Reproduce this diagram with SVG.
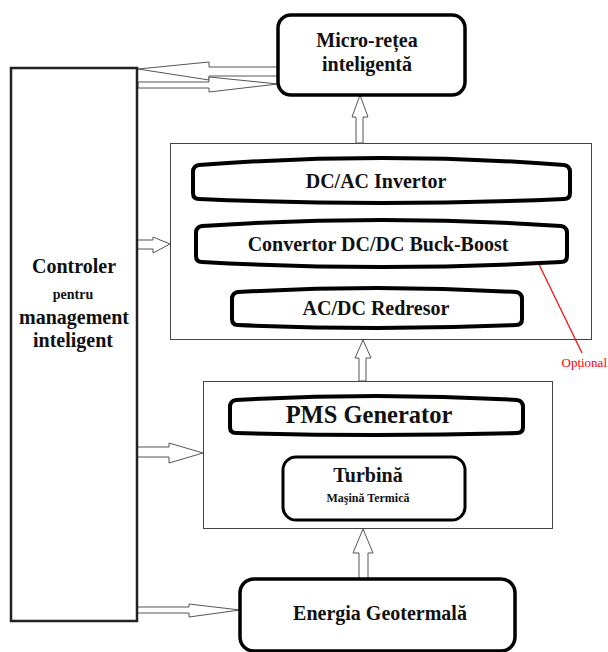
<svg xmlns="http://www.w3.org/2000/svg" width="608" height="652" viewBox="0 0 608 652">
<style>
text{font-family:"Liberation Serif","Times New Roman",serif;font-weight:bold;fill:#111;text-anchor:middle}
.arr{fill:#fff;stroke:#555;stroke-width:1}
.cont{fill:#fff;stroke:#444;stroke-width:1}
.thick{fill:#fff;stroke:#000;stroke-width:3.5}
.barrel{fill:#fff;stroke:#000;stroke-width:4}
.red{font-weight:normal;fill:#f00;text-anchor:end}
</style>
<rect width="608" height="652" fill="#fff"/>
<g id="containers">
<rect id="converter-stage" class="cont" x="170.5" y="143.5" width="421" height="196"/>
<rect id="generator-stage" class="cont" x="203.5" y="381.5" width="349" height="147"/>
</g>
<g id="connectors">
<polygon class="arr" points="138,69 209,62 209,67 278,67 278,76 209,76 209,80"/>
<polygon class="arr" points="138,82 209,82 209,77 278,84 209,92 209,88 138,88"/>
<polygon class="arr" points="356,143 356,117 352,117 360,95 368,117 363,117 363,143"/>
<polygon class="arr" points="359,381 359,358 355,358 363,340 371,358 366,358 366,381"/>
<polygon class="arr" points="359,579 359,553 353,553 363,529 373,553 368,553 368,579"/>
<polygon class="arr" points="137,240 153,240 153,237 170,244 153,253 153,249 137,249"/>
<polygon class="arr" points="137,447 169,447 169,443 203,453 169,463 169,457 137,457"/>
<polygon class="arr" points="137,607 189,607 189,604 240,610 189,617 189,613 137,613"/>
<line x1="533" y1="252" x2="582" y2="353" stroke="#f00" stroke-width="1.2"/>
</g>
<g id="controller">
<rect x="11" y="68" width="126" height="553" fill="#fff" stroke="#222" stroke-width="2.5"/>
<text x="74" y="273" font-size="20">Controler</text>
<text x="73" y="299" font-size="14">pentru</text>
<text x="74" y="324" font-size="20">management</text>
<text x="73" y="347" font-size="20">inteligent</text>
</g>
<g id="micro-retea">
<rect class="thick" x="278" y="15" width="187" height="80" rx="13"/>
<text x="367" y="47" font-size="20">Micro-rețea</text>
<text x="367" y="71" font-size="20">inteligentă</text>
</g>
<g id="dcac">
<path class="barrel" d="M199,165 Q381.5,151 564,165 Q570,166 570,172 L570,193 Q570,199 564,199 Q381.5,207 199,199 Q193,199 193,193 L193,172 Q193,166 199,165 Z"/>
<text x="376" y="188" font-size="20">DC/AC Invertor</text>
</g>
<g id="dcdc">
<path class="barrel" d="M202,226 Q381.5,214 561,226 Q567,227 567,233 L567,256 Q567,262 561,262 Q381.5,272 202,262 Q196,262 196,256 L196,233 Q196,227 202,226 Z"/>
<text x="378" y="251" font-size="20">Convertor DC/DC Buck-Boost</text>
</g>
<g id="acdc">
<path class="barrel" d="M238,292 Q377,284 516,292 Q522,293 522,299 L522,319 Q522,325 516,325 Q377,331 238,325 Q232,325 232,319 L232,299 Q232,293 238,292 Z"/>
<text x="376" y="315" font-size="20">AC/DC Redresor</text>
</g>
<g id="optional">
<text class="red" x="607" y="367" font-size="13">Opțional</text>
</g>
<g id="pms-generator">
<path class="barrel" d="M236,400 Q376.5,392 517,400 Q523,401 523,407 L523,427 Q523,433 517,433 Q376.5,437 236,433 Q230,433 230,427 L230,407 Q230,401 236,400 Z"/>
<text x="369" y="423" font-size="24.5">PMS Generator</text>
</g>
<g id="turbina">
<rect x="283" y="457" width="182" height="63" rx="13" fill="#fff" stroke="#000" stroke-width="3"/>
<text x="368" y="482" font-size="20">Turbină</text>
<text x="368" y="502" font-size="12">Maşină Termică</text>
</g>
<g id="energia">
<rect class="thick" x="240" y="579" width="275" height="72" rx="14"/>
<text x="380" y="620" font-size="20">Energia Geotermală</text>
</g>
</svg>
